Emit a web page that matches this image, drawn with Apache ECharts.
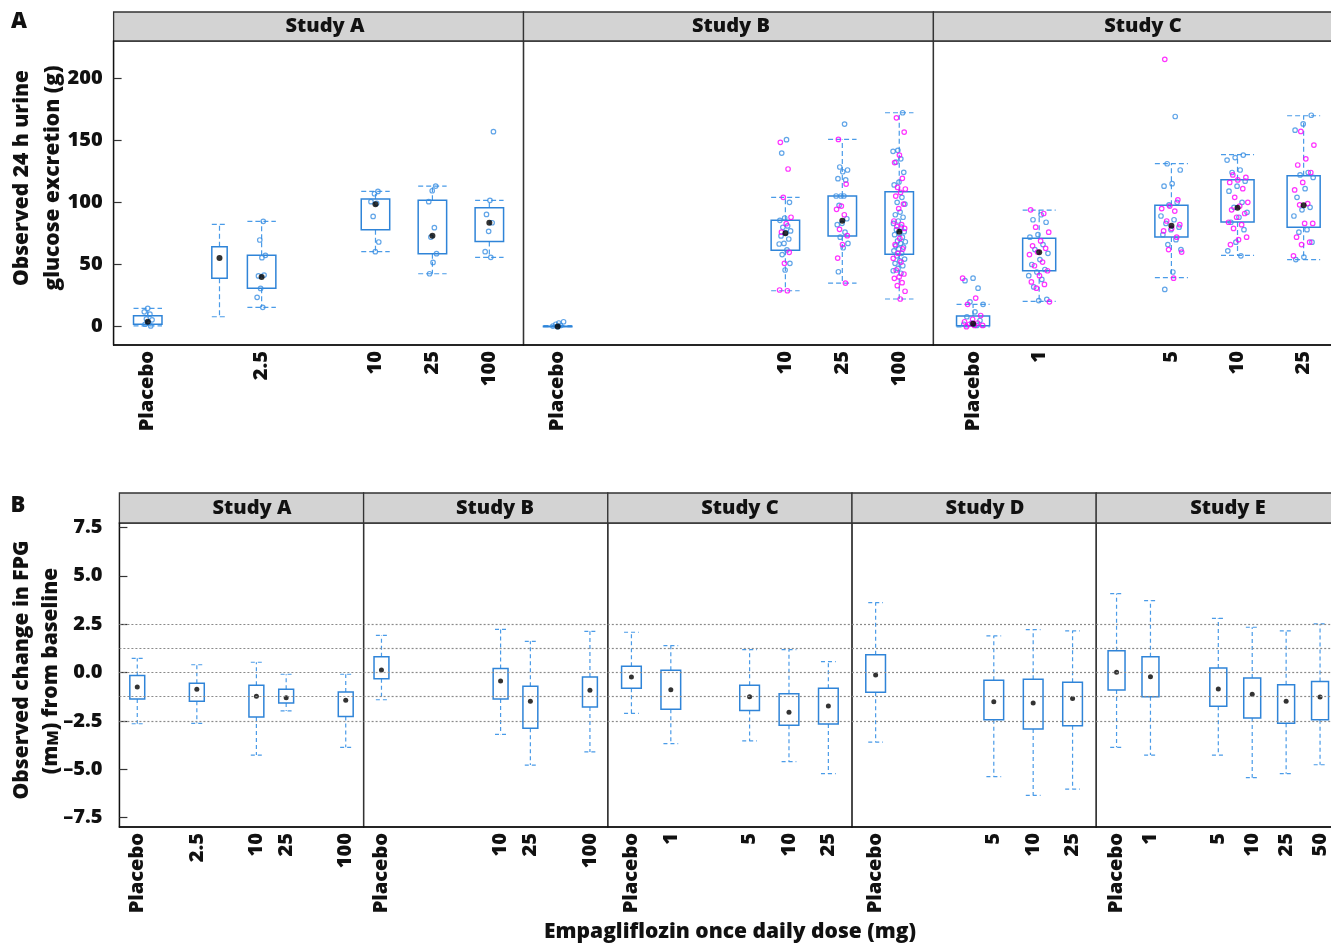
<!DOCTYPE html>
<html>
<head>
<meta charset="utf-8">
<script src="https://cdn.jsdelivr.net/npm/echarts@6/dist/echarts.min.js"></script>
<style>
html, body { margin: 0; padding: 0; background: #fff; }
#main { width: 1331px; height: 944px; }
</style>
</head>
<body>
<div id="main"></div>
<script>
// ---- data: panel A, observed 24 h urinary glucose excretion (g) ----
var ugeLevels = ['Placebo', '1', '2.5', '5', '10', '25', '100'];
var ugeUnlabeledPos = 1.26;   // group drawn between placebo and 2.5 with no tick label

var ugeA_doses = ['Placebo', '', '2.5', '10', '25', '100'];
var ugeA_box = [[0.6, 1.9, 8.8, 14.8], [8.0, 38.9, 64.3, 82.3], [15.6, 30.9, 57.4, 84.7],
                [60.3, 78.0, 102.7, 108.8], [42.6, 58.7, 101.6, 113.1], [55.8, 68.6, 95.7, 101.6]];
var ugeA_mean = [4.0, 55.2, 40.0, 98.4, 73.2, 83.6];
var ugeA_blue = [[14.8, 12.0, 10.1, 6.3, 5.5, 3.0, 2.0, 0.6], [],
                 [84.7, 69.7, 57.4, 55.5, 40.8, 41.5, 30.8, 23.6, 15.6],
                 [108.8, 106.9, 100.5, 99.2, 88.7, 68.1, 60.3],
                 [113.1, 109.3, 100.5, 79.6, 72.1, 58.7, 51.7, 42.6],
                 [156.8, 101.6, 90.3, 83.6, 76.7, 60.3, 55.8]];
var ugeA_pink = [[], [], [], [], [], []];

var ugeB_doses = ['Placebo', '10', '25', '100'];
var ugeB_box = [[0, 0, 0.4, 0.8], [28.9, 61.4, 85.5, 104.0], [35.1, 72.9, 105.1, 150.6], [22.3, 58.2, 108.5, 172.0]];
var ugeB_mean = [0.2, 75.1, 85.2, 76.4];
var ugeB_blue = [[0, 0.5, 1, 2, 4, 3],
                 [150.4, 139.6, 100, 87.4, 85.5, 81, 79.9, 77, 75.6, 73, 70.5, 67, 66.5, 61.7, 58, 51, 45.6],
                 [162.9, 128.4, 126, 124.6, 119, 118, 105.1, 105.1, 105.1, 97.6, 86.8, 83.1, 82, 76, 72, 67, 63.5, 44.2],
                 [172, 141.8, 141, 135, 132.4, 124.1, 116.3, 114, 104, 100, 98.6, 92.2, 90, 88, 85, 83, 80, 78, 76.4,
                  75, 74, 72, 69, 68.3, 67, 65, 64, 62.5, 61, 59, 57, 54.4, 53, 51, 49, 46.9, 45, 43]];
var ugeB_pink = [[],
                 [148.2, 126.8, 104, 88, 82.8, 76, 59.8, 51, 29.5, 28.9],
                 [150.6, 114.7, 97, 94.4, 90, 78.3, 73.2, 66, 55.2, 35.1],
                 [167.9, 156.5, 138, 132, 119.3, 112, 110.7, 108, 105, 98.6, 95, 85, 82, 80.7, 79, 71, 66, 62.5,
                  59, 55, 52, 45.6, 42.4, 40, 38.9, 35.4, 33, 28.5, 22.3]];

var ugeC_doses = ['Placebo', '1', '5', '10', '25'];
var ugeC_box = [[-0.2, 0.8, 8.6, 18.0], [20.4, 45.0, 71.1, 93.8], [39.4, 72.1, 97.6, 131.1],
                [57.4, 84.2, 118.2, 138.3], [53.9, 79.9, 121.4, 169.6]];
var ugeC_mean = [2.4, 59.8, 81.2, 95.7, 97.6];
var ugeC_blue = [[39, 37, 31, 20, 18, 12, 8, 5, 3, 2, 1],
                 [90, 86, 84, 74, 72, 66, 62, 59, 54, 50, 46, 44, 41, 38, 32, 22, 21],
                 [169, 131, 126, 115, 113, 100, 98, 89, 86, 83, 80, 78, 74, 70, 66, 62, 44, 30],
                 [138, 136, 134, 126, 124, 117, 113, 109, 100, 96, 92, 88, 84, 78, 68, 61, 57],
                 [170, 163, 158, 124, 122, 120, 111, 104, 96, 94, 89, 78, 76, 68, 56, 54]];
var ugeC_pink = [[39, 23, 18, 9, 6, 4, 3, 2, 1, 1, 0],
                 [94, 91, 80, 76, 69, 65, 63, 60, 58, 52, 49, 45, 41, 36, 34, 31, 20],
                 [215, 102, 97, 95, 93, 85, 82, 79, 77, 72, 62, 60, 39],
                 [122, 120, 118, 116, 111, 104, 100, 97, 94, 91, 88, 84, 82, 79, 72, 70, 66],
                 [157, 146, 135, 130, 124, 116, 110, 99, 98, 83, 83, 72, 68, 66, 57]];

// ---- data: panel B, observed change in FPG (mM) from baseline ----
var fpgLevels = ['Placebo', '1', '2.5', '5', '10', '25', '50', '100'];
var fpgRefLines = [2.5, 1.25, 0, -1.25, -2.5];

var fpgA_doses = ['Placebo', '2.5', '10', '25', '100'];
var fpgA_box = [[-2.65, -1.37, -0.15, 0.73], [-2.63, -1.49, -0.56, 0.40], [-4.27, -2.30, -0.66, 0.53],
                [-1.99, -1.58, -0.87, -0.09], [-3.87, -2.27, -1.01, -0.09]];
var fpgA_mean = [-0.75, -0.87, -1.23, -1.30, -1.44];

var fpgB_doses = ['Placebo', '10', '25', '100'];
var fpgB_box = [[-1.41, -0.32, 0.82, 1.92], [-3.20, -1.37, 0.20, 2.23], [-4.79, -2.89, -0.71, 1.61], [-4.11, -1.78, -0.23, 2.13]];
var fpgB_mean = [0.13, -0.44, -1.49, -0.92];

var fpgC_doses = ['Placebo', '1', '5', '10', '25'];
var fpgC_box = [[-2.11, -0.82, 0.32, 2.08], [-3.68, -1.90, 0.11, 1.39], [-3.54, -1.96, -0.66, 1.18],
                [-4.61, -2.73, -1.10, 1.18], [-5.23, -2.66, -0.82, 0.56]];
var fpgC_mean = [-0.23, -0.89, -1.25, -2.06, -1.73];

var fpgD_doses = ['Placebo', '5', '10', '25'];
var fpgD_box = [[-3.60, -1.02, 0.92, 3.61], [-5.39, -2.44, -0.40, 1.89], [-6.35, -2.92, -0.35, 2.22], [-6.03, -2.75, -0.51, 2.15]];
var fpgD_mean = [-0.13, -1.51, -1.58, -1.34];

var fpgE_doses = ['Placebo', '1', '5', '10', '25', '50'];
var fpgE_box = [[-3.87, -0.91, 1.13, 4.08], [-4.27, -1.25, 0.82, 3.72], [-4.27, -1.75, 0.23, 2.80],
                [-5.44, -2.35, -0.28, 2.34], [-5.23, -2.63, -0.63, 2.15], [-4.77, -2.44, -0.46, 2.51]];
var fpgE_mean = [0.01, -0.22, -0.85, -1.13, -1.49, -1.27];

var ugeTicks = [0, 50, 100, 150, 200];
var fpgTicks = [-7.5, -5, -2.5, 0, 2.5, 5, 7.5];

// ---- layout / style ----
var FONT = '"Open Sans", "DejaVu Sans", sans-serif';
var WEIGHT = 800;
var BOX = '#2f84d8', WHISK = '#4a9be8', PINK = '#ff00ff', DOT = '#3a8ee2';

var facets = [
  {name: 'Study A', levels: ugeLevels, doses: ugeA_doses, box: ugeA_box, mean: ugeA_mean, blue: ugeA_blue, pink: ugeA_pink,
   left: 113.6, top: 41, width: 409.9, height: 304, ymin: -14.7, ymax: 229.7, stripX: 325, jit: 0.08, narrow: {1: 0.27}},
  {name: 'Study B', levels: ugeLevels, doses: ugeB_doses, box: ugeB_box, mean: ugeB_mean, blue: ugeB_blue, pink: ugeB_pink,
   left: 523.5, top: 41, width: 409.9, height: 304, ymin: -14.7, ymax: 229.7, stripX: 731, jit: 0.11},
  {name: 'Study C', levels: ugeLevels, doses: ugeC_doses, box: ugeC_box, mean: ugeC_mean, blue: ugeC_blue, pink: ugeC_pink,
   left: 933.4, top: 41, width: 409.9, height: 304, ymin: -14.7, ymax: 229.7, stripX: 1143, jit: 0.16},
  {name: 'Study A', levels: fpgLevels, doses: fpgA_doses, box: fpgA_box, mean: fpgA_mean,
   left: 119.4, top: 523, width: 244.2, height: 304, ymin: -7.99, ymax: 7.73, stripX: 252},
  {name: 'Study B', levels: fpgLevels, doses: fpgB_doses, box: fpgB_box, mean: fpgB_mean,
   left: 363.6, top: 523, width: 244.2, height: 304, ymin: -7.99, ymax: 7.73, stripX: 495},
  {name: 'Study C', levels: fpgLevels, doses: fpgC_doses, box: fpgC_box, mean: fpgC_mean,
   left: 607.8, top: 523, width: 244.2, height: 304, ymin: -7.99, ymax: 7.73, stripX: 740},
  {name: 'Study D', levels: fpgLevels, doses: fpgD_doses, box: fpgD_box, mean: fpgD_mean,
   left: 852.0, top: 523, width: 244.2, height: 304, ymin: -7.99, ymax: 7.73, stripX: 985},
  {name: 'Study E', levels: fpgLevels, doses: fpgE_doses, box: fpgE_box, mean: fpgE_mean,
   left: 1096.2, top: 523, width: 244.2, height: 304, ymin: -7.99, ymax: 7.73, stripX: 1228}
];

function posOf(f, i) {
  var d = f.doses[i];
  return d === '' ? ugeUnlabeledPos : f.levels.indexOf(d);
}
function jitter(k) {
  var v = (k * 0.6180339887 + 0.5) % 1;
  return v * 2 - 1;
}

var grids = [], xAxes = [], yAxes = [], series = [], graphics = [];

facets.forEach(function (f, gi) {
  var isA = gi < 3;
  var pos = f.doses.map(function (d, i) { return posOf(f, i); });
  var maxPos = Math.max.apply(null, pos);
  var labeled = pos.filter(function (p, i) { return f.doses[i] !== ''; });

  grids.push({left: f.left, top: f.top, width: f.width, height: f.height, show: true,
              borderColor: '#333', borderWidth: 1.3, outerBoundsMode: 'none'});

  xAxes.push({
    type: 'value', gridIndex: gi, min: -0.6, max: maxPos + 0.6,
    splitLine: {show: false}, axisTick: {show: false},
    axisLine: {show: true, onZero: false, lineStyle: {color: '#111', width: 1.5}},
    axisLabel: {
      customValues: labeled, rotate: 90, margin: 6,
      fontFamily: FONT, fontWeight: WEIGHT, fontSize: 20, color: '#111',
      formatter: function (v) {
        for (var i = 0; i < pos.length; i++) if (Math.abs(pos[i] - v) < 1e-6) return f.doses[i];
        return '';
      }
    }
  });

  var first = gi === 0 || gi === 3;
  var ticks = isA ? ugeTicks : fpgTicks;
  yAxes.push({
    type: 'value', gridIndex: gi, min: f.ymin, max: f.ymax, show: first,
    splitLine: {show: false},
    axisLine: {show: true, onZero: false, lineStyle: {color: '#111', width: 1.3}},
    axisTick: {show: true, inside: true, length: 8, customValues: ticks, lineStyle: {color: '#333', width: 1.2}},
    axisLabel: {
      customValues: ticks, margin: isA ? 11 : 17,
      fontFamily: FONT, fontWeight: WEIGHT, fontSize: 20, color: '#111',
      formatter: function (v) {
        if (isA) return String(v);
        return v.toFixed(1).replace('-', '\u2013');
      }
    }
  });

  if (!isA) {
    series.push({
      type: 'line', xAxisIndex: gi, yAxisIndex: gi, data: [], silent: true,
      markLine: {
        silent: true, symbol: 'none', label: {show: false},
        lineStyle: {color: '#8a8a8a', type: [2, 2], width: 1.2},
        emphasis: {disabled: true},
        data: fpgRefLines.map(function (v) { return {yAxis: v}; })
      }
    });
  }

  var capScale = isA ? 1 : 0.75;
  var dash = isA ? [5, 3] : [4, 3];
  series.push({
    type: 'custom', xAxisIndex: gi, yAxisIndex: gi, clip: true, silent: true,
    data: f.box.map(function (b, i) { return [pos[i], b[0], b[1], b[2], b[3], i]; }),
    renderItem: function (params, api) {
      var x = api.value(0);
      var idx = api.value(5);
      var w = (f.narrow && f.narrow[idx]) ? f.narrow[idx] : 0.5;
      var lo = api.coord([x, api.value(1)]);
      var q1 = api.coord([x, api.value(2)]);
      var q3 = api.coord([x, api.value(3)]);
      var hi = api.coord([x, api.value(4)]);
      var half = api.size([w, 0])[0] / 2;
      var cap = half * capScale;
      var ws = {stroke: WHISK, lineWidth: 1.2, lineDash: dash};
      return {type: 'group', children: [
        {type: 'line', shape: {x1: q3[0], y1: q3[1], x2: hi[0], y2: hi[1]}, style: ws},
        {type: 'line', shape: {x1: q1[0], y1: q1[1], x2: lo[0], y2: lo[1]}, style: ws},
        {type: 'line', shape: {x1: hi[0] - cap, y1: hi[1], x2: hi[0] + cap, y2: hi[1]}, style: ws},
        {type: 'line', shape: {x1: lo[0] - cap, y1: lo[1], x2: lo[0] + cap, y2: lo[1]}, style: ws},
        {type: 'rect', shape: {x: q3[0] - half, y: q3[1], width: half * 2, height: q1[1] - q3[1]},
         style: {fill: 'none', stroke: BOX, lineWidth: 1.5}}
      ]};
    }
  });

  if (isA) {
    [['blue', DOT, 0], ['pink', PINK, 17]].forEach(function (c) {
      var data = [];
      f[c[0]].forEach(function (vals, i) {
        vals.forEach(function (v, k) {
          data.push([pos[i] + jitter(k + i * 5 + c[2]) * f.jit, v]);
        });
      });
      series.push({
        type: 'scatter', xAxisIndex: gi, yAxisIndex: gi, data: data, silent: true,
        symbol: 'circle', symbolSize: 4.5,
        itemStyle: {color: 'rgba(255,255,255,0)', borderColor: c[1], borderWidth: 1.2}
      });
    });
  }

  series.push({
    type: 'scatter', xAxisIndex: gi, yAxisIndex: gi, silent: true,
    data: f.mean.map(function (m, i) { return [pos[i], m]; }),
    symbol: 'circle', symbolSize: isA ? 6 : 5,
    itemStyle: {color: '#000'}
  });

  graphics.push({
    type: 'rect', shape: {x: f.left, y: isA ? 12 : 493, width: f.width, height: isA ? 29 : 30},
    style: {fill: '#d3d3d3', stroke: '#333', lineWidth: 1.3}
  });
  graphics.push({
    type: 'text', x: f.stripX, y: isA ? 26.5 : 508,
    style: {text: f.name, fill: '#111', font: WEIGHT + ' 20px ' + FONT,
            align: 'center', verticalAlign: 'middle', textAlign: 'center', textVerticalAlign: 'middle'}
  });
});

function titleText(text, x, y, rot, size, rich) {
  return {
    type: 'text', x: x, y: y, rotation: rot,
    style: {text: text, fill: '#111', font: WEIGHT + ' ' + size + 'px ' + FONT, rich: rich,
            align: 'center', verticalAlign: 'middle', textAlign: 'center', textVerticalAlign: 'middle'}
  };
}
var smallCaps = {sc: {fontSize: 16, fontWeight: WEIGHT, fontFamily: FONT, fill: '#111', verticalAlign: 'bottom'}};
graphics.push(titleText('A', 19, 22, 0, 22));
graphics.push(titleText('B', 18, 506, 0, 22));
graphics.push(titleText('Observed 24 h urine', 22, 178, Math.PI / 2, 21));
graphics.push(titleText('glucose excretion (g)', 53, 178, Math.PI / 2, 21));
graphics.push(titleText('Observed change in FPG', 22, 670, Math.PI / 2, 21));
graphics.push(titleText('(m{sc|M}) from baseline', 51, 671, Math.PI / 2, 21, smallCaps));
graphics.push(titleText('Empagliflozin once daily dose (mg)', 730, 932, 0, 21));

var chart = echarts.init(document.getElementById('main'));
var option = {
  backgroundColor: '#fff',
  animation: false,
  grid: grids,
  xAxis: xAxes,
  yAxis: yAxes,
  series: series,
  graphic: graphics
};
chart.setOption(option);
</script>
</body>
</html>
